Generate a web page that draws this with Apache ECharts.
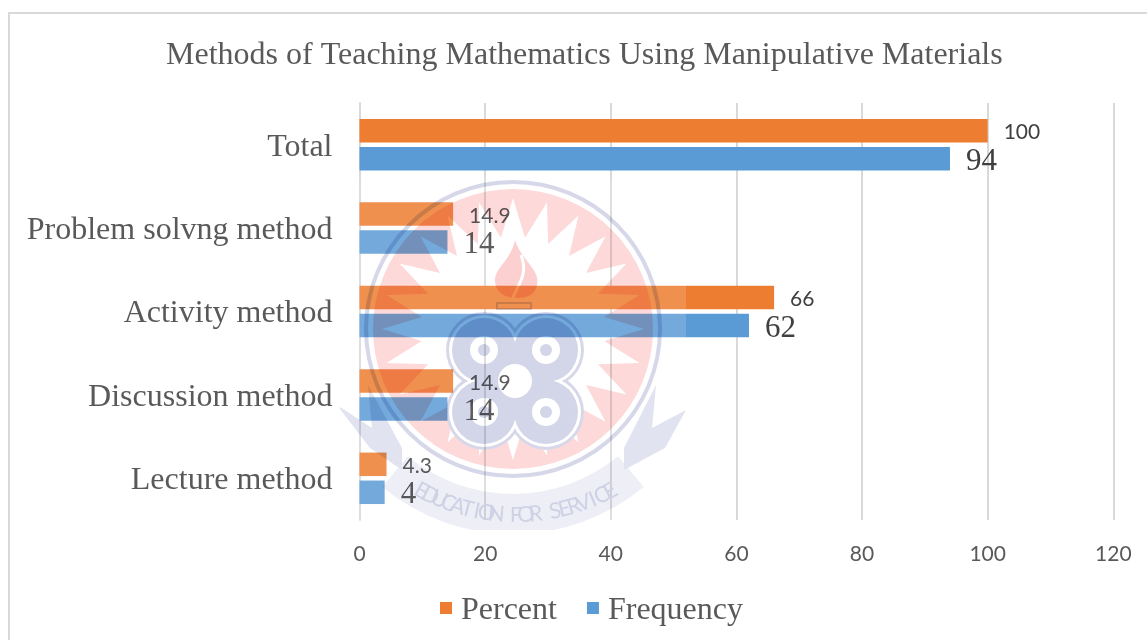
<!DOCTYPE html>
<html>
<head>
<meta charset="utf-8">
<title>Methods of Teaching Mathematics</title>
<style>
html, body { margin: 0; padding: 0; background: #fff; }
#chart { width: 1147px; height: 640px; }
</style>
<script src="https://cdn.jsdelivr.net/npm/echarts@6/dist/echarts.min.js"></script>
</head>
<body>
<div id="chart"></div>
<script>
// bottom to top, as a category axis counts
const methods = ['Lecture method', 'Discussion method', 'Activity method', 'Problem solvng method', 'Total'];
const frequency = [4, 14, 62, 14, 94];
const percent = [4.3, 14.9, 66, 14.9, 100];

const serif = '"Liberation Serif", "Times New Roman", serif';
const sans = 'Lato, "Open Sans", sans-serif';

// the seal behind the chart, painted once and multiplied over everything
function sealCanvas() {
    const c = document.createElement('canvas');
    c.width = 346;
    c.height = 360;
    const g = c.getContext('2d');
    const cx = 173, cy = 159;   // 340,170 is the corner of the image
    g.fillStyle = '#fff';
    g.fillRect(0, 0, 346, 360);

    function disc(x, y, r, col) {
        g.fillStyle = col;
        g.beginPath();
        g.arc(x, y, r, 0, Math.PI * 2);
        g.fill();
    }

    // scroll under the ring
    g.fillStyle = '#eeeff6';
    g.beginPath();
    g.arc(cx, cy, 205, Math.PI * 0.28, Math.PI * 0.72);
    g.arc(cx, cy, 165, Math.PI * 0.72, Math.PI * 0.28, true);
    g.closePath();
    g.fill();
    // wings
    g.fillStyle = '#e2e3f0';
    g.beginPath();
    g.moveTo(-3, 235); g.lineTo(32, 258); g.lineTo(28, 215); g.lineTo(62, 278);
    g.lineTo(62, 300); g.lineTo(30, 278);
    g.closePath();
    g.fill();
    g.beginPath();
    g.moveTo(346, 240); g.lineTo(312, 258); g.lineTo(316, 215); g.lineTo(284, 278);
    g.lineTo(284, 300); g.lineTo(325, 278);
    g.closePath();
    g.fill();

    disc(cx, cy, 149, '#d6d8ea');
    disc(cx, cy, 145, '#fff');
    disc(cx, cy, 140, '#fdd9d9');

    // white burst
    g.fillStyle = '#fff';
    g.beginPath();
    const spikes = 24;
    for (let i = 0; i < spikes * 2; i++) {
        const a = -Math.PI / 2 + i * Math.PI / spikes;
        const r = i % 2 === 0 ? 131 : 92;
        const x = cx + r * Math.cos(a), y = cy + r * Math.sin(a);
        if (i === 0) g.moveTo(x, y); else g.lineTo(x, y);
    }
    g.closePath();
    g.fill();

    // flame
    g.fillStyle = '#fcd0d0';
    g.beginPath();
    g.moveTo(cx + 2, 70);
    g.bezierCurveTo(cx + 8, 90, cx + 28, 100, cx + 24, 115);
    g.bezierCurveTo(cx + 22, 127, cx + 10, 128, cx + 4, 128);
    g.bezierCurveTo(cx - 8, 128, cx - 18, 122, cx - 18, 110);
    g.bezierCurveTo(cx - 18, 98, cx - 2, 90, cx + 2, 70);
    g.fill();
    g.strokeStyle = '#fff';
    g.lineWidth = 3;
    g.beginPath();
    g.moveTo(cx + 8, 85);
    g.bezierCurveTo(cx + 16, 105, cx + 4, 115, cx, 128);
    g.stroke();
    g.strokeStyle = '#d6d8ea';
    g.lineWidth = 2;
    g.strokeRect(cx - 16, 133, 34, 6);

    // clover
    const lobes = [[-31, -31], [31, -31], [-31, 31], [31, 31]];
    const kx = cx + 2, ky = 211;
    lobes.forEach(p => disc(kx + p[0], ky + p[1], 38, '#d6d8ea'));
    lobes.forEach(p => disc(kx + p[0], ky + p[1], 35, '#fff'));
    lobes.forEach(p => disc(kx + p[0], ky + p[1], 32, '#d3d5e8'));
    disc(kx, ky, 30, '#d3d5e8');
    lobes.forEach(p => disc(kx + p[0], ky + p[1], 14, '#fff'));
    lobes.forEach(p => disc(kx + p[0], ky + p[1], 6, '#d3d5e8'));
    disc(kx, ky, 17, '#fff');
    return c;
}

// letters of the motto, set one by one along the scroll
function mottoLetters() {
    const motto = 'EDUCATION FOR SERVICE';
    const out = [];
    for (let i = 0; i < motto.length; i++) {
        const a = (i - (motto.length - 1) / 2) * 0.05;
        out.push({
            type: 'text',
            x: 516 + 197 * Math.sin(a),
            y: 318 + 197 * Math.cos(a),
            rotation: a,
            z: 101,
            silent: true,
            style: {
                text: motto[i],
                font: '22px ' + sans,
                fill: '#cfd1e5',
                align: 'center',
                verticalAlign: 'middle',
                blend: 'multiply'
            }
        });
    }
    return out;
}

var ch1 = echarts.init(document.getElementById('chart'), null, { renderer: 'canvas' });

var option = {
    backgroundColor: '#fff',
    animation: false,
    title: {
        text: 'Methods of Teaching Mathematics Using Manipulative Materials',
        left: 166,
        top: 40,
        padding: 0,
        textStyle: { fontFamily: serif, fontSize: 32, fontWeight: 'normal', color: '#595959' }
    },
    legend: {
        data: ['Percent', 'Frequency'],
        left: 440,
        top: 595,
        padding: 0,
        icon: 'rect',
        itemWidth: 12,
        itemHeight: 12,
        itemGap: 30,
        formatter: name => '{a|' + name + '}',
        textStyle: {
            rich: { a: { fontFamily: serif, fontSize: 32, color: '#595959', padding: [6, 0, 0, 4] } }
        }
    },
    grid: { left: 359.5, top: 103, width: 753.8, height: 417 },
    xAxis: {
        type: 'value',
        min: 0,
        max: 120,
        interval: 20,
        axisLine: { show: false },
        axisTick: { show: false },
        axisLabel: { fontFamily: sans, fontSize: 21, color: '#595959', margin: 24 },
        splitLine: { lineStyle: { color: '#d9d9d9', width: 2 } }
    },
    yAxis: {
        type: 'category',
        data: methods,
        axisLine: { lineStyle: { color: '#d9d9d9', width: 2 } },
        axisTick: { length: 10, lineStyle: { color: '#d9d9d9', width: 2 } },
        axisLabel: {
            margin: 27,
            formatter: '{a|{value}}',
            rich: { a: { fontFamily: serif, fontSize: 32, color: '#595959', padding: [5, 0, 0, 0] } }
        }
    },
    series: [
        {
            name: 'Percent',
            type: 'bar',
            data: percent,
            barWidth: 23.5,
            barGap: '19%',
            itemStyle: { color: '#ed7d31' },
            label: {
                show: true,
                position: 'right',
                distance: 16,
                offset: [0, 2],
                fontFamily: sans,
                fontSize: 21,
                color: '#404040'
            }
        },
        {
            name: 'Frequency',
            type: 'bar',
            data: frequency,
            barWidth: 23.5,
            barGap: '19%',
            itemStyle: { color: '#5b9bd5' },
            label: {
                show: true,
                position: 'right',
                distance: 16,
                offset: [0, 3],
                fontFamily: serif,
                fontSize: 31,
                color: '#404040'
            }
        }
    ],
    graphic: [
        {
            type: 'rect',
            silent: true,
            z: 1,
            shape: { x: 9, y: 13, width: 1200, height: 700 },
            style: { fill: 'none', stroke: '#d9d9d9', lineWidth: 2 }
        },
        {
            type: 'rect',
            silent: true,
            z: 99,
            shape: { x: 340, y: 178, width: 346, height: 352 },
            style: { fill: 'rgba(255,255,255,0.15)' }
        },
        {
            type: 'image',
            silent: true,
            z: 100,
            x: 340,
            y: 170,
            style: { image: sealCanvas(), width: 346, height: 360, blend: 'multiply' }
        }
    ].concat(mottoLetters())
};

ch1.setOption(option);
</script>
</body>
</html>
